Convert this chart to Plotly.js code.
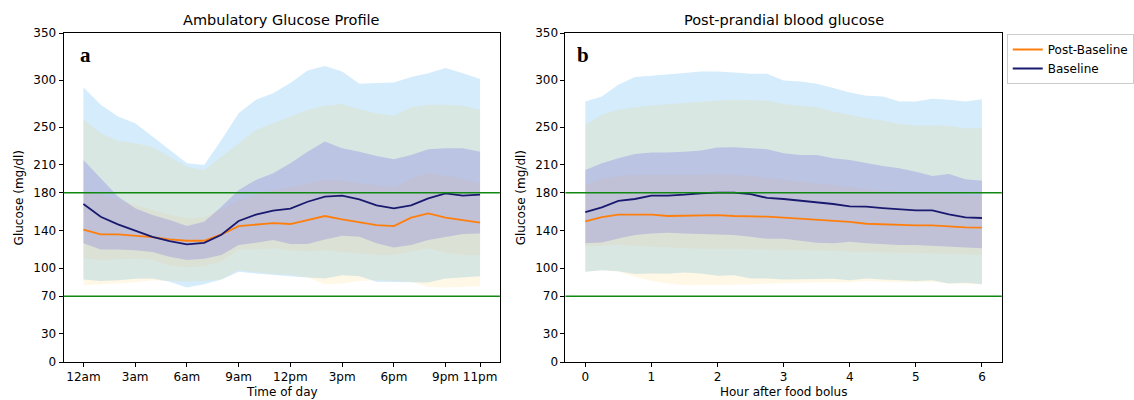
<!DOCTYPE html>
<html>
<head>
<meta charset="utf-8">
<script src="https://cdn.plot.ly/plotly-3.0.1.min.js"></script>
<style>html,body{margin:0;padding:0;background:#fff;}#chart{width:1134px;height:400px;}</style>
</head>
<body>
<div id="chart"></div>
<script>
// ---------- Data ----------
const hoursA = [0,1,2,3,4,5,6,7,8,9,10,11,12,13,14,15,16,17,18,19,20,21,22,23];
const hourTickVals = [0,3,6,9,12,15,18,21,23];
const hourTickText = ['12am','3am','6am','9am','12pm','3pm','6pm','9pm','11pm'];

const baseMedA = [168,154.5,146.4,139.6,133.2,128.6,125.1,126.8,135.4,150,156.7,161,163.1,170.5,175.9,177,173,166.6,163.5,166.6,174.1,179.4,177,178];
const postMedA = [140.7,135.7,135.7,134.7,132.9,130.4,129,129,135.7,144.6,146.4,147.8,146.8,151,155.3,151.7,148.9,145.7,144.6,153.5,158.1,153.5,151,148.2];
const base95A = [292.4,273.6,261.1,254,239.8,225.6,211.4,209.6,236.3,264.7,278.9,286,296.7,310.1,315,309.1,296,296.7,297.4,303.1,307.3,312.7,307.3,301];
const post95A = [258.3,243.4,235.5,232.8,229.1,218.5,207.8,204.3,218.5,232.8,246.9,254,261.1,268.3,272.5,274.6,269,264.7,261.9,271.1,273.6,273.6,272.5,268.3];
const base75A = [215,196,176,163.5,156.3,151,144.6,149.2,165.2,183,193.7,200.8,211.4,223.8,234.5,227.4,223.8,219.2,215.7,220.3,226.4,227.4,227.4,223.8];
const post75A = [182,178,173,167,162,157,153,154,162,172,178,183,186,190,194,193,190,188,186,195,201,198,195,190];
const base25A = [126.2,119.8,119.8,119,116.9,111.9,108.4,109.8,113.7,124.4,126.8,129.7,125.4,125.4,130.4,134.3,133.2,126.2,121.9,124.4,129.7,133.2,136.1,136.8];
const post25A = [110.1,108.4,109.1,110.1,108.4,103,100.6,102,106.6,119.8,119.8,120.9,119,117.2,119,117.2,115.5,113.7,113.7,117.2,120.9,116.2,113.7,113.7];
const base5A = [87.8,86.3,87,88.5,88.8,85.3,79.3,82.8,87.8,95.9,94.2,92.4,91.3,90,88.9,92.4,91.3,85.3,85.3,85,84.6,88.9,90,91.3];
const post5A = [81.7,82.8,83.5,84.9,87,86.3,85.3,86.3,87.8,97.7,95.9,93.5,92.8,90,82.8,83.5,86.3,87,86.3,85.3,79.9,79.3,79.9,80.6];

const hoursB = [0,0.25,0.5,0.75,1,1.25,1.5,1.75,2,2.25,2.5,2.75,3,3.25,3.5,3.75,4,4.25,4.5,4.75,5,5.25,5.5,5.75,6];
const hourBTickVals = [0,1,2,3,4,5,6];
const baseMedB = [159.5,164.5,171.3,173.4,176.9,176.9,178,179.5,180.1,180.1,178.7,174.5,173.4,171.6,170.5,168.1,165.6,165.3,163.8,162.7,161.3,161.3,157.1,153.9,153.2];
const postMedB = [149.6,154.2,156.7,156.9,156.7,155.3,155.7,156,156.2,155.3,155,154.6,153.5,152.4,150.7,149.6,149,147.1,146.4,145.7,145.4,145.4,143.9,143.2,142.9];
const base95B = [277.1,282.4,294.9,303.1,304.5,305.6,307.4,309.1,309.1,308,306.6,306.6,299.5,298.5,296,291.4,286.7,283.2,282.4,277.1,277.1,280,279,277.1,279.6];
const post95B = [252.3,262.9,268.3,271.1,272.8,274.3,276,276.8,278.2,278.9,278.9,278.2,274.6,272.5,271.1,266.5,262.9,259.4,256.8,253.3,251.9,251.2,251.2,248.7,248.7];
const base75B = [204.3,211.4,216.8,221.4,222.8,222.8,223.8,224.9,228.1,228.4,227.4,226.4,222.1,220.3,220.3,216.8,215,211.4,208.6,206.1,202.5,197.9,200,194.4,192.9];
const post75B = [188,195,198,199,199,199,199,199,200,199,198,196,194,192,190,188,186,184,182,181,180,179,178,177,176];
const base25B = [126.2,127.2,131.5,135,136.8,137.5,136.8,136.1,136.1,135,133.2,131.1,131.1,129,126.8,126.2,127.9,126.2,125.1,124.4,124.4,123.7,122.6,121.5,120.9];
const post25B = [122.6,123.3,124.7,123.3,122.6,121.9,120.9,120.5,120.5,120.2,119.8,119.8,119,119,118.7,118.3,117.2,116.9,116.5,116.5,116.2,115.5,114.8,114.1,113.7];
const base5B = [95.9,97.7,96.6,93.5,94.2,93.9,95.3,94.2,91.7,92.4,88.9,88.9,87.8,88.1,88.5,88.5,87,88.9,87.8,87,86.3,87,83.5,84.2,82.8];
const post5B = [95.9,97.7,95.9,90.6,86.3,83.5,81.7,81.7,81.7,82,82.4,83.5,83.5,84.2,84.9,85.3,84.9,86.3,85.3,84.9,84.9,85.3,83.5,83.5,82.8];

const glucoseTicks = [0,30,70,100,140,180,210,250,300,350];
const thresholds = [70,180];
const seriesNames = ['Post-Baseline','Baseline'];
const panelTitles = ['Ambulatory Glucose Profile','Post-prandial blood glucose'];
const xTitles = ['Time of day','Hour after food bolus'];
const yTitle = 'Glucose (mg/dl)';
const panelLetters = ['a','b'];

// ---------- Styles ----------
const C_BASE_OUTER = 'rgba(120,195,245,0.32)';
const C_POST_OUTER = 'rgba(255,200,50,0.12)';
const C_BASE_INNER = 'rgba(30,10,230,0.16)';
const C_POST_INNER = 'rgba(255,170,60,0.08)';
const C_BASE_LINE = '#191970';
const C_POST_LINE = '#ff7f0e';
const FONT = 'DejaVu Sans, sans-serif';

function band(x, lo, hi, color, xa, ya) {
  return [
    {x: x, y: lo, xaxis: xa, yaxis: ya, type: 'scatter', mode: 'lines', line: {width: 0, color: color}, showlegend: false, hoverinfo: 'skip'},
    {x: x, y: hi, xaxis: xa, yaxis: ya, type: 'scatter', mode: 'lines', line: {width: 0, color: color}, fill: 'tonexty', fillcolor: color, showlegend: false, hoverinfo: 'skip'}
  ];
}

function panel(x, d, xa, ya, legend) {
  return [].concat(
    band(x, d.b5, d.b95, C_BASE_OUTER, xa, ya),
    band(x, d.p5, d.p95, C_POST_OUTER, xa, ya),
    band(x, d.b25, d.b75, C_BASE_INNER, xa, ya),
    band(x, d.p25, d.p75, C_POST_INNER, xa, ya),
    [
      {x: x, y: d.pm, xaxis: xa, yaxis: ya, type: 'scatter', mode: 'lines', name: seriesNames[0], line: {color: C_POST_LINE, width: 1.8}, showlegend: legend, legendgroup: 'p'},
      {x: x, y: d.bm, xaxis: xa, yaxis: ya, type: 'scatter', mode: 'lines', name: seriesNames[1], line: {color: C_BASE_LINE, width: 1.8}, showlegend: legend, legendgroup: 'b'}
    ]
  );
}

const traces = [].concat(
  panel(hoursA, {b5: base5A, b95: base95A, p5: post5A, p95: post95A, b25: base25A, b75: base75A, p25: post25A, p75: post75A, bm: baseMedA, pm: postMedA}, 'x', 'y', false),
  panel(hoursB, {b5: base5B, b95: base95B, p5: post5B, p95: post95B, b25: base25B, b75: base75B, p25: post25B, p75: post75B, bm: baseMedB, pm: postMedB}, 'x2', 'y2', true)
);

const W = 1134, H = 400;
const axA = [64, 503], axB = [569, 1008], axY = [33, 362];
const yDom = [(H - axY[1]) / H, (H - axY[0]) / H];

const common = {
  showline: true, mirror: true, linecolor: '#000', linewidth: 1,
  ticks: 'outside', ticklen: 4, tickwidth: 1, tickcolor: '#000',
  showgrid: false, zeroline: false, automargin: false,
  tickfont: {family: FONT, size: 12, color: '#000'}
};

const shapes = [];
['x', 'x2'].forEach((xa, i) => {
  const ya = i === 0 ? 'y' : 'y2';
  thresholds.forEach(t => shapes.push({
    type: 'line', xref: xa + ' domain', yref: ya, x0: 0, x1: 1, y0: t, y1: t,
    line: {color: '#118811', width: 1.5}, layer: 'above'
  }));
});

const annotations = [];
[axA, axB].forEach((ax, i) => {
  const cx = (ax[0] + ax[1]) / 2 / W;
  annotations.push({text: panelTitles[i], xref: 'paper', yref: 'paper', x: cx, y: (H - 20) / H, xanchor: 'center', yanchor: 'middle', showarrow: false, font: {family: FONT, size: 14.5, color: '#000'}});
  annotations.push({text: xTitles[i], xref: 'paper', yref: 'paper', x: cx, y: (H - 392) / H, xanchor: 'center', yanchor: 'middle', showarrow: false, font: {family: FONT, size: 12, color: '#000'}});
  annotations.push({text: yTitle, xref: 'paper', yref: 'paper', x: (ax[0] - 45) / W, y: (yDom[0] + yDom[1]) / 2, xanchor: 'center', yanchor: 'middle', textangle: -90, showarrow: false, font: {family: FONT, size: 12, color: '#000'}});
  annotations.push({text: '<b>' + panelLetters[i] + '</b>', xref: 'paper', yref: 'paper', x: (ax[0] + (i === 0 ? 14 : 10)) / W, y: (H - 55) / H, xanchor: 'left', yanchor: 'middle', showarrow: false, font: {family: 'Liberation Serif, serif', size: 21, color: '#000'}});
});

const layout = {
  width: W, height: H,
  margin: {l: 0, r: 0, t: 0, b: 0, pad: 0},
  paper_bgcolor: '#fff', plot_bgcolor: '#fff',
  font: {family: FONT, size: 12, color: '#000'},
  xaxis: Object.assign({}, common, {domain: [axA[0] / W, axA[1] / W], range: [-1.15, 24.15], tickmode: 'array', tickvals: hourTickVals, ticktext: hourTickText, anchor: 'y'}),
  yaxis: Object.assign({}, common, {domain: yDom, range: [0, 350], tickmode: 'array', tickvals: glucoseTicks, anchor: 'x'}),
  xaxis2: Object.assign({}, common, {domain: [axB[0] / W, axB[1] / W], range: [-0.3, 6.3], tickmode: 'array', tickvals: hourBTickVals, anchor: 'y2'}),
  yaxis2: Object.assign({}, common, {domain: yDom, range: [0, 350], tickmode: 'array', tickvals: glucoseTicks, anchor: 'x2'}),
  shapes: shapes,
  annotations: annotations,
  showlegend: true,
  legend: {x: 1013 / W, y: (H - 34) / H, xanchor: 'left', yanchor: 'top', bgcolor: '#fff', bordercolor: '#cccccc', borderwidth: 1, font: {family: FONT, size: 12, color: '#000'}, tracegroupgap: 0, itemwidth: 30}
};

Plotly.newPlot('chart', traces, layout, {displayModeBar: false, staticPlot: true});
</script>
</body>
</html>
